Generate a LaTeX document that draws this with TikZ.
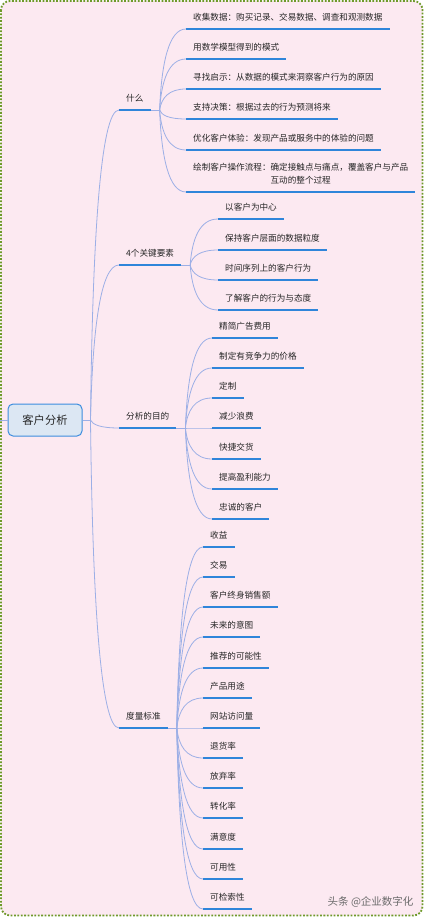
\documentclass[tikz,border=0pt]{standalone}
\usepackage{fontspec}
\newfontfamily\cjk{Noto Sans CJK SC}
\usetikzlibrary{calc}

\definecolor{bgpink}{HTML}{FCE9F1}
\definecolor{framegreen}{HTML}{6E9A2A}
\definecolor{linkblue}{HTML}{9CAFE6}
\definecolor{ulblue}{HTML}{2F85DA}
\definecolor{rootfill}{HTML}{DCE7F3}
\definecolor{rootdraw}{HTML}{3C8DDE}
\definecolor{txt}{HTML}{262626}
\definecolor{marktxt}{HTML}{6A6A6A}

\tikzset{
  conn/.style={draw=linkblue, line width=0.8pt},
  uline/.style={draw=ulblue, line width=2pt},
  topic/.style={anchor=south west, inner xsep=7pt, inner ysep=0pt,
    text height=8pt, text depth=8.5pt, text=txt,
    font=\cjk\fontsize{8.6}{12.4}\selectfont,
    append after command={(\tikzlastnode.south west) edge[uline] (\tikzlastnode.south east)}},
  rootbox/.style={draw=rootdraw, fill=rootfill, line width=1pt, rounded corners=5pt,
    minimum width=74pt, minimum height=32pt, text=txt,
    font=\cjk\fontsize{11.3}{13}\selectfont}
}

% curved connector: leaves steep, lands flat on the underline
\newcommand\mmlink[2]{\draw[conn] let \p1=(#1), \p2=(#2) in (\p1)
  .. controls ({\x1+0.07*(\x2-\x1)}, {\y1+0.58*(\y2-\y1)}) and ({\x1+0.35*(\x2-\x1)}, \y2) .. (\p2);}

\begin{document}
\begin{tikzpicture}[x=1pt, y=-1pt]
  \useasboundingbox (0,0) rectangle (427,917);
  \draw[framegreen, line width=1.8pt, dash pattern=on 1.8pt off 1.6pt, fill=bgpink, rounded corners=9pt]
    (1,1) rectangle (422.5,915.5);

  % root
  \node[rootbox] (root) at (45,420) {客户分析};
  \coordinate (lin) at (0,420);
  \coordinate (hub) at ($(root.east)+(8,0)$);
  \draw[conn] (lin) -- (root.west);
  \draw[conn] (root.east) -- (hub);

  % main branches
  \node[topic] (w) at (119,110) {什么};
  \node[topic] (k) at (119,265) {4个关键要素};
  \node[topic] (p) at (119,428) {分析的目的};
  \node[topic] (m) at (119,728) {度量标准};
  \mmlink{hub}{w.south west}
  \mmlink{hub}{k.south west}
  \mmlink{hub}{p.south west}
  \mmlink{hub}{m.south west}

  % 什么
  \node[topic] (w1) at (186,29) {收集数据：购买记录、交易数据、调查和观测数据};
  \node[topic] (w2) at (186,59) {用数学模型得到的模式};
  \node[topic] (w3) at (186,89) {寻找启示：从数据的模式来洞察客户行为的原因};
  \node[topic] (w4) at (186,119) {支持决策：根据过去的行为预测将来};
  \node[topic] (w5) at (186,150) {优化客户体验：发现产品或服务中的体验的问题};
  \node[topic, text height=20.4pt] (w6) at (186,192)
    {\begin{tabular}[b]{@{}l@{}}绘制客户操作流程：确定接触点与痛点，覆盖客户与产品\\\hphantom{绘制客户操作流程：}互动的整个过程\end{tabular}};
  \coordinate (wf) at ($(w.south east)+(9,0)$);
  \draw[conn] (w.south east) -- (wf);
  \mmlink{wf}{w1.south west}
  \mmlink{wf}{w2.south west}
  \mmlink{wf}{w3.south west}
  \mmlink{wf}{w4.south west}
  \mmlink{wf}{w5.south west}
  \mmlink{wf}{w6.south west}

  % 4个关键要素
  \node[topic] (k1) at (218,219) {以客户为中心};
  \node[topic] (k2) at (218,250) {保持客户层面的数据粒度};
  \node[topic] (k3) at (218,280) {时间序列上的客户行为};
  \node[topic] (k4) at (218,310) {了解客户的行为与态度};
  \coordinate (kf) at ($(k.south east)+(9,0)$);
  \draw[conn] (k.south east) -- (kf);
  \mmlink{kf}{k1.south west}
  \mmlink{kf}{k2.south west}
  \mmlink{kf}{k3.south west}
  \mmlink{kf}{k4.south west}

  % 分析的目的
  \node[topic] (p1) at (212,338) {精简广告费用};
  \node[topic] (p2) at (212,368) {制定有竞争力的价格};
  \node[topic] (p3) at (212,398) {定制};
  \node[topic] (p4) at (212,428) {减少浪费};
  \node[topic] (p5) at (212,459) {快捷交货};
  \node[topic] (p6) at (212,489) {提高盈利能力};
  \node[topic] (p7) at (212,519) {忠诚的客户};
  \coordinate (pf) at ($(p.south east)+(9,0)$);
  \draw[conn] (p.south east) -- (pf);
  \mmlink{pf}{p1.south west}
  \mmlink{pf}{p2.south west}
  \mmlink{pf}{p3.south west}
  \mmlink{pf}{p4.south west}
  \mmlink{pf}{p5.south west}
  \mmlink{pf}{p6.south west}
  \mmlink{pf}{p7.south west}

  % 度量标准
  \node[topic] (m1) at (203,547) {收益};
  \node[topic] (m2) at (203,577) {交易};
  \node[topic] (m3) at (203,607) {客户终身销售额};
  \node[topic] (m4) at (203,637) {未来的意图};
  \node[topic] (m5) at (203,668) {推荐的可能性};
  \node[topic] (m6) at (203,698) {产品用途};
  \node[topic] (m7) at (203,728) {网站访问量};
  \node[topic] (m8) at (203,758) {退货率};
  \node[topic] (m9) at (203,788) {放弃率};
  \node[topic] (m10) at (203,818) {转化率};
  \node[topic] (m11) at (203,849) {满意度};
  \node[topic] (m12) at (203,879) {可用性};
  \node[topic] (m13) at (203,909) {可检索性};
  \coordinate (mf) at ($(m.south east)+(9,0)$);
  \draw[conn] (m.south east) -- (mf);
  \mmlink{mf}{m1.south west}
  \mmlink{mf}{m2.south west}
  \mmlink{mf}{m3.south west}
  \mmlink{mf}{m4.south west}
  \mmlink{mf}{m5.south west}
  \mmlink{mf}{m6.south west}
  \mmlink{mf}{m7.south west}
  \mmlink{mf}{m8.south west}
  \mmlink{mf}{m9.south west}
  \mmlink{mf}{m10.south west}
  \mmlink{mf}{m11.south west}
  \mmlink{mf}{m12.south west}
  \mmlink{mf}{m13.south west}

  \node[anchor=east, text=marktxt, font=\cjk\fontsize{10.5}{12}\selectfont] (mark) at (417,902) {头条 @企业数字化};
\end{tikzpicture}
\end{document}
